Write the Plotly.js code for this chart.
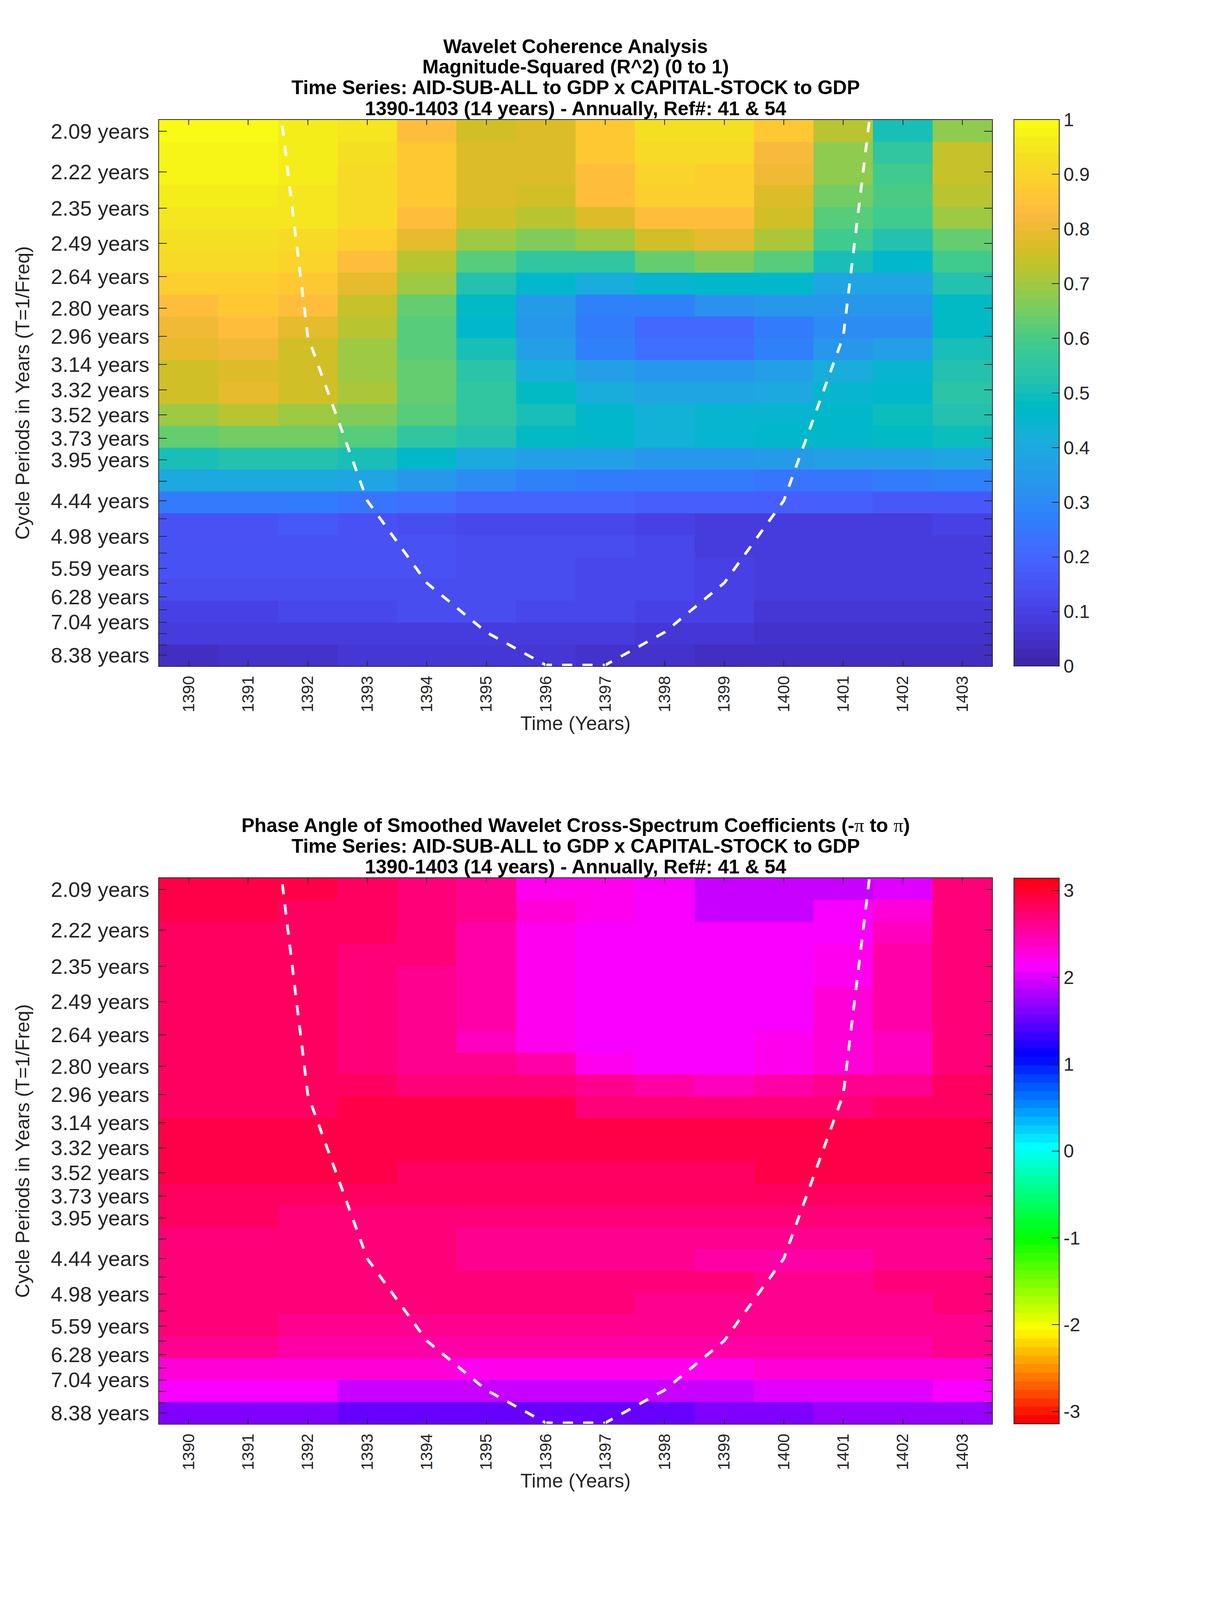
<!DOCTYPE html>
<html>
<head>
<meta charset="utf-8">
<script src="https://cdn.plot.ly/plotly-3.0.1.min.js"></script>
<style>body { margin: 0; background: #fff; overflow: hidden; }</style>
</head>
<body>
<div id="plot"></div>
<script>
let years = [1390, 1391, 1392, 1393, 1394, 1395, 1396, 1397, 1398, 1399, 1400, 1401, 1402, 1403];

let tickPeriods = [2.09, 2.22, 2.35, 2.49, 2.64, 2.80, 2.96, 3.14, 3.32, 3.52, 3.73, 3.95, 4.19, 4.44, 4.70, 4.98, 5.28, 5.59, 5.93, 6.28, 6.65, 7.04, 7.46, 7.91, 8.38];
let tickLabels = ["2.09 years", "2.22 years", "2.35 years", "2.49 years", "2.64 years", "2.80 years", "2.96 years", "3.14 years", "3.32 years", "3.52 years", "3.73 years", "3.95 years", "", "4.44 years", "", "4.98 years", "", "5.59 years", "", "6.28 years", "", "7.04 years", "", "", "8.38 years"];

let cohTicks = [0, 0.1, 0.2, 0.3, 0.4, 0.5, 0.6, 0.7, 0.8, 0.9, 1];
let cohTickLabels = ["0", "0.1", "0.2", "0.3", "0.4", "0.5", "0.6", "0.7", "0.8", "0.9", "1"];
let phaseTicks = [-3, -2, -1, 0, 1, 2, 3];
let phaseTickLabels = ["-3", "-2", "-1", "0", "1", "2", "3"];

// cone of influence
let coiYears = [1391, 1392, 1393, 1394, 1395, 1396, 1397, 1398, 1399, 1400, 1401, 1402];
let coiPeriods = [1.48, 2.96, 4.44, 5.92, 7.40, 8.88, 8.88, 7.40, 5.92, 4.44, 2.96, 1.48];

// rows go top to bottom, columns are the years
let coherence = [
    [.985, .985, .96, .94, .84, .755, .77, .87, .93, .93, .87, .72, .51, .68],
    [.98, .98, .96, .93, .87, .78, .78, .86, .92, .91, .82, .68, .56, .735],
    [.98, .98, .96, .92, .87, .78, .78, .83, .90, .89, .80, .68, .59, .745],
    [.96, .96, .94, .91, .87, .78, .75, .83, .88, .88, .78, .65, .60, .73],
    [.95, .95, .94, .92, .83, .75, .73, .77, .83, .83, .76, .62, .58, .70],
    [.93, .93, .92, .88, .79, .69, .66, .70, .76, .79, .71, .59, .52, .64],
    [.91, .91, .90, .84, .73, .62, .55, .56, .64, .67, .62, .50, .46, .59],
    [.88, .88, .87, .79, .69, .53, .46, .41, .44, .46, .46, .38, .38, .52],
    [.84, .87, .83, .74, .64, .47, .35, .28, .28, .32, .33, .33, .33, .48],
    [.81, .83, .79, .72, .62, .46, .33, .25, .21, .21, .26, .30, .31, .47],
    [.79, .81, .76, .70, .62, .50, .36, .28, .22, .22, .27, .33, .37, .50],
    [.76, .78, .76, .70, .64, .54, .42, .36, .34, .34, .37, .42, .44, .52],
    [.76, .79, .76, .71, .64, .55, .47, .41, .39, .39, .40, .44, .46, .54],
    [.70, .73, .70, .67, .62, .55, .50, .46, .43, .45, .45, .46, .49, .53],
    [.63, .65, .65, .62, .56, .52, .47, .46, .43, .44, .46, .46, .47, .49],
    [.51, .53, .53, .50, .46, .40, .37, .36, .34, .34, .35, .37, .37, .38],
    [.40, .40, .40, .38, .33, .31, .28, .26, .26, .25, .24, .24, .25, .28],
    [.26, .26, .25, .24, .22, .20, .19, .19, .18, .18, .18, .18, .17, .17],
    [.15, .15, .17, .15, .14, .12, .11, .11, .10, .09, .09, .09, .09, .10],
    [.15, .15, .15, .15, .15, .14, .13, .13, .11, .09, .08, .08, .08, .09],
    [.15, .15, .15, .15, .15, .14, .13, .12, .11, .10, .09, .08, .08, .09],
    [.13, .13, .13, .14, .14, .14, .13, .12, .11, .10, .09, .08, .08, .08],
    [.10, .10, .12, .12, .13, .13, .11, .11, .10, .10, .07, .07, .07, .07],
    [.08, .08, .09, .09, .09, .09, .08, .08, .07, .07, .05, .05, .05, .05],
    [.04, .05, .05, .07, .07, .07, .07, .06, .05, .04, .04, .04, .04, .04]
];

let phase = [
    [2.94, 2.94, 2.94, 2.77, 2.73, 2.62, 2.25, 2.18, 2.12, 1.93, 1.93, 1.95, 2.05, 2.72],
    [2.94, 2.94, 2.82, 2.77, 2.73, 2.62, 2.27, 2.18, 2.12, 1.93, 1.93, 2.09, 2.27, 2.72],
    [2.83, 2.83, 2.83, 2.83, 2.73, 2.50, 2.25, 2.09, 2.09, 2.09, 2.09, 2.09, 2.40, 2.70],
    [2.80, 2.80, 2.80, 2.70, 2.73, 2.47, 2.25, 2.09, 2.09, 2.09, 2.09, 2.25, 2.47, 2.70],
    [2.80, 2.80, 2.80, 2.70, 2.58, 2.47, 2.25, 2.09, 2.09, 2.09, 2.09, 2.25, 2.47, 2.72],
    [2.80, 2.80, 2.80, 2.70, 2.58, 2.47, 2.25, 2.11, 2.09, 2.09, 2.11, 2.35, 2.47, 2.72],
    [2.78, 2.78, 2.78, 2.70, 2.58, 2.47, 2.25, 2.14, 2.09, 2.09, 2.14, 2.35, 2.47, 2.72],
    [2.77, 2.77, 2.77, 2.69, 2.57, 2.44, 2.23, 2.09, 2.09, 2.09, 2.20, 2.35, 2.44, 2.73],
    [2.77, 2.77, 2.77, 2.68, 2.65, 2.57, 2.48, 2.24, 2.09, 2.09, 2.24, 2.30, 2.44, 2.73],
    [2.80, 2.80, 2.80, 2.80, 2.68, 2.68, 2.68, 2.60, 2.50, 2.37, 2.50, 2.60, 2.60, 2.83],
    [2.83, 2.83, 2.83, 2.85, 2.85, 2.85, 2.85, 2.74, 2.74, 2.74, 2.74, 2.74, 2.83, 2.83],
    [2.87, 2.87, 2.87, 2.87, 2.87, 2.87, 2.87, 2.87, 2.87, 2.87, 2.87, 2.87, 2.87, 2.87],
    [2.87, 2.87, 2.87, 2.87, 2.87, 2.87, 2.87, 2.87, 2.87, 2.87, 2.87, 2.87, 2.87, 2.87],
    [2.87, 2.87, 2.87, 2.87, 2.76, 2.76, 2.76, 2.76, 2.76, 2.76, 2.87, 2.87, 2.87, 2.87],
    [2.77, 2.77, 2.77, 2.77, 2.77, 2.77, 2.77, 2.77, 2.77, 2.77, 2.77, 2.77, 2.77, 2.77],
    [2.77, 2.77, 2.68, 2.68, 2.68, 2.68, 2.68, 2.68, 2.68, 2.68, 2.68, 2.68, 2.68, 2.68],
    [2.68, 2.68, 2.68, 2.68, 2.68, 2.57, 2.57, 2.57, 2.57, 2.57, 2.57, 2.57, 2.57, 2.57],
    [2.68, 2.68, 2.68, 2.68, 2.68, 2.57, 2.57, 2.57, 2.57, 2.48, 2.48, 2.48, 2.57, 2.57],
    [2.66, 2.66, 2.66, 2.66, 2.66, 2.66, 2.66, 2.66, 2.66, 2.66, 2.57, 2.57, 2.66, 2.66],
    [2.66, 2.66, 2.66, 2.66, 2.66, 2.66, 2.66, 2.66, 2.57, 2.57, 2.57, 2.57, 2.57, 2.66],
    [2.66, 2.66, 2.57, 2.57, 2.57, 2.57, 2.57, 2.57, 2.57, 2.57, 2.57, 2.57, 2.57, 2.57],
    [2.62, 2.62, 2.48, 2.48, 2.48, 2.48, 2.48, 2.48, 2.48, 2.48, 2.48, 2.48, 2.48, 2.60],
    [2.30, 2.30, 2.30, 2.30, 2.30, 2.20, 2.20, 2.20, 2.20, 2.20, 2.30, 2.30, 2.30, 2.30],
    [2.09, 2.09, 2.09, 1.93, 1.93, 1.93, 1.93, 1.93, 1.93, 1.93, 2.05, 2.05, 2.05, 2.12],
    [1.65, 1.65, 1.65, 1.55, 1.55, 1.55, 1.55, 1.55, 1.55, 1.65, 1.65, 1.72, 1.72, 1.72]
];

let parula = [
    [.2422, .1504, .6603], [.2504, .1650, .7076], [.2578, .1818, .7511], [.2647, .1978, .7952],
    [.2706, .2147, .8364], [.2751, .2342, .8710], [.2783, .2559, .8991], [.2803, .2782, .9221],
    [.2813, .3006, .9414], [.2810, .3228, .9579], [.2795, .3447, .9717], [.2760, .3667, .9829],
    [.2699, .3892, .9906], [.2602, .4123, .9952], [.2440, .4358, .9988], [.2206, .4603, .9973],
    [.1963, .4847, .9892], [.1834, .5074, .9798], [.1786, .5289, .9682], [.1764, .5499, .9520],
    [.1687, .5703, .9359], [.1540, .5902, .9218], [.1460, .6091, .9079], [.1380, .6276, .8973],
    [.1248, .6459, .8883], [.1113, .6635, .8763], [.0952, .6798, .8598], [.0689, .6948, .8394],
    [.0297, .7082, .8163], [.0036, .7203, .7917], [.0067, .7312, .7660], [.0433, .7411, .7394],
    [.0964, .7500, .7120], [.1408, .7584, .6842], [.1717, .7670, .6554], [.1938, .7758, .6251],
    [.2161, .7843, .5923], [.2470, .7918, .5567], [.2906, .7973, .5188], [.3406, .8008, .4789],
    [.3909, .8029, .4354], [.4456, .8024, .3909], [.5044, .7993, .3480], [.5616, .7942, .3045],
    [.6174, .7876, .2612], [.6720, .7793, .2227], [.7242, .7698, .1910], [.7738, .7598, .1646],
    [.8203, .7498, .1535], [.8634, .7406, .1596], [.9035, .7330, .1774], [.9393, .7288, .2100],
    [.9728, .7298, .2394], [.9956, .7434, .2371], [.9970, .7659, .2199], [.9952, .7861, .1990],
    [.9892, .8086, .1816], [.9786, .8318, .1642], [.9676, .8545, .1494], [.9610, .8757, .1368],
    [.9597, .9005, .1205], [.9626, .9283, .1030], [.9691, .9559, .0900], [.9769, .9839, .0805]
];

let pi = '<span style="font-family:Liberation Serif;font-weight:normal">\u03c0</span>';
let titleLines1 = ["Wavelet Coherence Analysis", "Magnitude-Squared (R^2) (0 to 1)", "Time Series: AID-SUB-ALL to GDP x CAPITAL-STOCK to GDP", "1390-1403 (14 years) - Annually, Ref#: 41 &amp; 54"];
let titleLines2 = ["Phase Angle of Smoothed Wavelet Cross-Spectrum Coefficients (-" + pi + " to " + pi + ")", "Time Series: AID-SUB-ALL to GDP x CAPITAL-STOCK to GDP", "1390-1403 (14 years) - Annually, Ref#: 41 &amp; 54"];

function hsv_colour(i, n) {
    let h = 6 * i / n;
    let f = h - Math.floor(h);
    let rows = [[1, f, 0], [1 - f, 1, 0], [0, 1, f], [0, 1 - f, 1], [f, 0, 1], [1, 0, 1 - f]];
    return rows[Math.floor(h) % 6];
}

// stepped colorscale, one flat band per colormap entry
function stepped(colours) {
    let scale = [];
    colours.forEach((c, i) => {
        let css = "rgb(" + c.map(v => Math.round(v * 255)).join(",") + ")";
        scale.push([i / colours.length, css]);
        scale.push([(i + 1) / colours.length, css]);
    });
    return scale;
}

let hsvMap = [];
for (let i = 0; i < 64; i++) hsvMap.push(hsv_colour(i, 64));

// all positions below are measured on the 3125x6252 reference
const refW = 3125, refH = 6252;
const W = window.innerWidth, H = window.innerHeight;
const squeeze = Math.min(1, H / refH);

function shrink(size, extra) {
    return Math.round(size * Math.min(1, squeeze + extra));
}

const titleSize = shrink(64, 0.12);
const labelSize = shrink(64, 0.12);
const yTickSize = shrink(58, 0.27);
const xTickSize = shrink(58, 0.07);
const cbTickSize = shrink(52, 0.27);

const ink = "#262626";
const font = "Liberation Sans, Arial, sans-serif";

// axes boxes
const left = 407, right = 2539, cbLeft = 2595;
const box1 = [468, 2603], box2 = [3431, 5564];
const baselines1 = [207, 288, 369, 450], baselines2 = [3251, 3332, 3413];

// y axis is linear in frequency, the cells are evenly spaced on it
const fTop = 0.48626, fBottom = 0.11186;
const rowStep = (fTop - fBottom) / coherence.length;

function paper_y(px) {
    return 1 - px / refH;
}

// paper y for the middle of a line of title text sitting on a baseline
function title_y(baseline) {
    return 1 - baseline / refH + 0.346 * titleSize / H;
}

function heat(z, colours, zmin, zmax, box, ticks, labels, xa, ya) {
    return {
        type: "heatmap",
        x: years,
        y0: fTop - rowStep / 2,
        dy: -rowStep,
        z: z,
        zmin: zmin,
        zmax: zmax,
        xaxis: xa,
        yaxis: ya,
        colorscale: stepped(colours),
        zsmooth: false,
        colorbar: {
            x: cbLeft / refW,
            xanchor: "left",
            xpad: 0,
            ypad: 0,
            y: paper_y((box[0] + box[1]) / 2),
            yanchor: "middle",
            len: (box[1] - box[0]) / refH,
            lenmode: "fraction",
            thickness: 116,
            thicknessmode: "pixels",
            outlinecolor: ink,
            outlinewidth: 2,
            ticks: "inside",
            ticklen: 20,
            tickwidth: 2,
            tickcolor: ink,
            tickmode: "array",
            tickvals: ticks,
            ticktext: labels,
            tickfont: {family: font, size: cbTickSize, color: ink}
        }
    };
}

function coi(xa, ya) {
    return {
        type: "scatter",
        mode: "lines",
        x: coiYears,
        y: coiPeriods.map(p => 1 / p),
        xaxis: xa,
        yaxis: ya,
        showlegend: false,
        line: {color: "#fff", width: 7, dash: "26px,26px"}
    };
}

function x_axis(anchor) {
    return {
        anchor: anchor,
        domain: [left / refW, right / refW],
        range: [1389.5, 1403.5],
        tickmode: "array",
        tickvals: years,
        ticktext: years.map(String),
        tickangle: -90,
        ticks: "inside",
        ticklen: Math.round(20 * squeeze),
        tickwidth: 2,
        tickcolor: ink,
        ticklabelstandoff: 6,
        tickfont: {family: font, size: xTickSize, color: ink},
        showgrid: false,
        zeroline: false,
        showline: true,
        linecolor: ink,
        linewidth: 2,
        mirror: "ticks",
        title: {text: "Time (Years)", standoff: 6, font: {family: font, size: labelSize, color: ink}}
    };
}

function y_axis(anchor, box) {
    return {
        anchor: anchor,
        domain: [paper_y(box[1]), paper_y(box[0])],
        range: [fBottom, fTop],
        tickmode: "array",
        tickvals: tickPeriods.map(p => 1 / p),
        ticktext: tickLabels,
        ticks: "inside",
        ticklen: 20,
        tickwidth: 2,
        tickcolor: ink,
        ticklabelstandoff: 12,
        tickfont: {family: font, size: yTickSize, color: ink},
        showgrid: false,
        zeroline: false,
        showline: true,
        linecolor: ink,
        linewidth: 2,
        mirror: "ticks",
        title: {text: "Cycle Periods in Years (T=1/Freq)", standoff: 39, font: {family: font, size: labelSize, color: ink}}
    };
}

let titleFont = {family: font, size: titleSize, color: "#000", weight: "bold"};

function title_line(text, baseline) {
    return {
        text: text,
        font: titleFont,
        xref: "paper",
        yref: "paper",
        x: (left + right) / 2 / refW,
        xanchor: "center",
        y: title_y(baseline),
        yanchor: "middle",
        showarrow: false
    };
}

let notes = [];
titleLines1.forEach((t, i) => { if (i > 0) notes.push(title_line(t, baselines1[i])); });
titleLines2.forEach((t, i) => notes.push(title_line(t, baselines2[i])));

let data = [
    heat(coherence, parula, 0, 1, box1, cohTicks, cohTickLabels, "x", "y"),
    coi("x", "y"),
    heat(phase, hsvMap, -Math.PI, Math.PI, box2, phaseTicks, phaseTickLabels, "x2", "y2"),
    coi("x2", "y2")
];

let layout = {
    width: W,
    height: H,
    autosize: false,
    paper_bgcolor: "#fff",
    plot_bgcolor: "#fff",
    showlegend: false,
    margin: {l: 0, r: 0, t: 0, b: 0, pad: 0},
    font: {family: font, color: ink},
    title: {
        text: titleLines1[0],
        font: titleFont,
        xref: "paper",
        yref: "paper",
        x: (left + right) / 2 / refW,
        xanchor: "center",
        y: title_y(baselines1[0]),
        yanchor: "middle"
    },
    annotations: notes,
    xaxis: x_axis("y"),
    yaxis: y_axis("x", box1),
    xaxis2: x_axis("y2"),
    yaxis2: y_axis("x2", box2)
};

Plotly.newPlot("plot", data, layout, {displayModeBar: false});
</script>
</body>
</html>
